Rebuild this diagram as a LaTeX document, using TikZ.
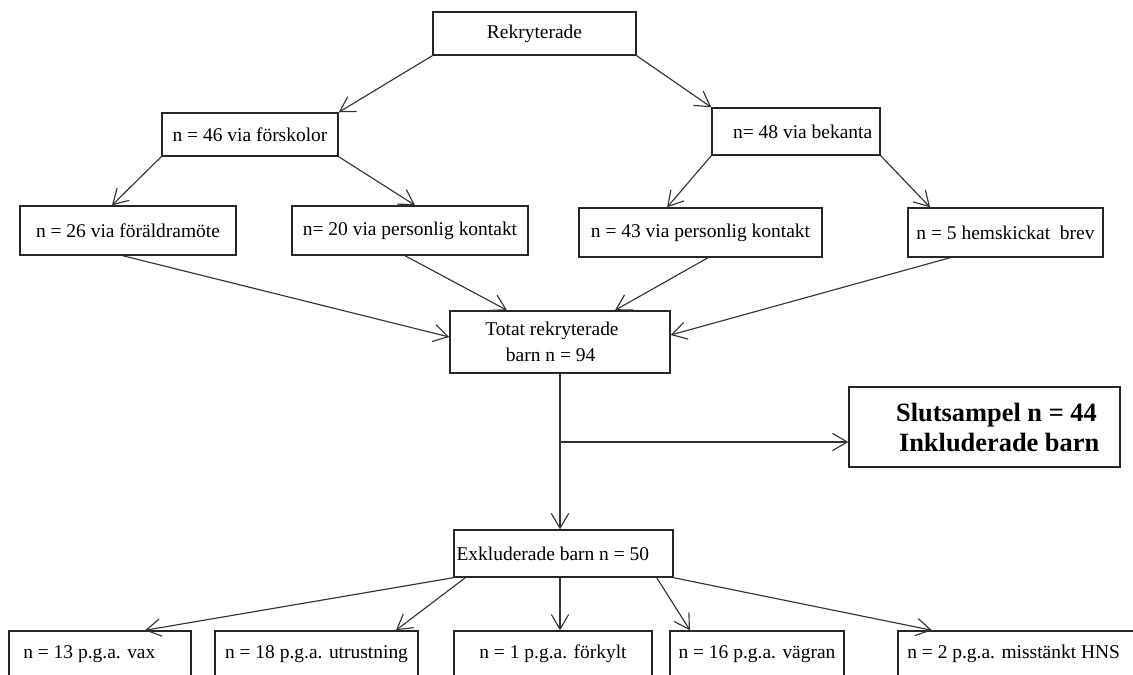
\documentclass[tikz,border=0pt]{standalone}
\usepackage{fontspec}
\setmainfont{Liberation Serif}
\usetikzlibrary{arrows.meta}
\begin{document}
\begin{tikzpicture}[x=0.75pt,y=-0.75pt,
  box/.style={draw=black!85, line width=1.1pt, rectangle, inner sep=0pt, align=center,
    font=\fontsize{14.6}{20}\selectfont},
  bigbox/.style={box, font=\fontsize{19.8}{22.5}\selectfont\bfseries},
  arr/.style={draw=black!80, line width=0.85pt, -{Straight Barb[length=11pt,width=13pt]}}]
\useasboundingbox (0,0) rectangle (1133,675);
\clip (0,0) rectangle (1133,675);
\fill[white] (0,0) rectangle (1133,675);

% top
\node[box, minimum width=152.25pt, minimum height=32.25pt] (rek) at (534.5,33.5) {Rekryterade};
\node[box, minimum width=132pt, minimum height=32.25pt] (f46) at (250,134.5) {n = 46 via förskolor};
\node[box, minimum width=126pt, minimum height=35.25pt] (b48) at (796,131.5) {\hspace*{10pt}n= 48 via bekanta};

% second row
\node[box, minimum width=162pt, minimum height=36.75pt] (f26) at (128,230.5) {n = 26 via föräldramöte};
\node[box, minimum width=177pt, minimum height=36.75pt] (f20) at (410,230.5) {n= 20 via personlig kontakt};
\node[box, minimum width=182.25pt, minimum height=36.75pt] (f43) at (700.5,232.5) {n = 43 via personlig kontakt};
\node[box, minimum width=146.25pt, minimum height=36.75pt] (f5) at (1005.5,232.5) {n = 5 hemskickat\ \ brev};

% middle
\node[box, minimum width=165pt, minimum height=46.5pt] (tot) at (560,342) {Totat rekryterade\hspace*{12pt}\\barn n = 94\hspace*{14pt}};
\node[bigbox, minimum width=203.25pt, minimum height=60pt] (slut) at (984.5,427) {\hspace*{18pt}Slutsampel n = 44\\\hspace*{22pt}Inkluderade barn};
\node[box, minimum width=164.25pt, minimum height=35.25pt] (exk) at (563.5,553.5) {Exkluderade barn n = 50\hspace*{16pt}};

% bottom row
\node[box, minimum width=136.5pt, minimum height=34.5pt] (e13) at (100,654) {n = 13 p.g.a. vax\hspace*{16pt}};
\node[box, minimum width=152.25pt, minimum height=34.5pt] (e18) at (316.5,654) {n = 18 p.g.a. utrustning};
\node[box, minimum width=148.5pt, minimum height=34.5pt] (e1) at (553,654) {n = 1 p.g.a. förkylt};
\node[box, minimum width=130.5pt, minimum height=34.5pt] (e16) at (757,654) {n = 16 p.g.a. vägran};
\node[box, minimum width=181.5pt, minimum height=34.5pt] (e2) at (1019,654) {n = 2 p.g.a. misstänkt HNS\hspace*{8pt}};

% connectors top
\draw[arr] (rek.south west) -- (f46.north east);
\draw[arr] (rek.south east) -- (b48.north west);
\draw[arr] (f46.south west) -- ([xshift=-12pt]f26.north);
\draw[arr] (f46.south east) -- ([xshift=3.75pt]f20.north);
\draw[arr] (b48.south west) -- ([xshift=-25pt]f43.north);
\draw[arr] (b48.south east) -- ([xshift=-56.6pt]f5.north);

% into total
\draw[arr] ([xshift=-3.75pt]f26.south) -- ([yshift=3.75pt]tot.west);
\draw[arr] ([xshift=-3.75pt]f20.south) -- ([xshift=-39.75pt]tot.north);
\draw[arr] ([xshift=5.6pt]f43.south) -- ([xshift=41.25pt]tot.north);
\draw[arr] ([xshift=-41.6pt]f5.south) -- ([yshift=5.25pt]tot.east);

% total -> excluded, branch -> final sample
\draw[arr] (tot.south) -- (tot.south |- exk.north);
\coordinate (sw) at ([yshift=-11.25pt]slut.west);
\coordinate (br) at (tot.south |- sw);
\draw[arr] (br) -- (sw);

% excluded -> reasons
\draw[arr] (exk.south west) -- ([xshift=33.75pt]e13.north);
\draw[arr] ([xshift=9pt]exk.south west) -- ([xshift=59.6pt]e18.north);
\draw[arr] (tot.south |- exk.south) -- (tot.south |- e1.north);
\draw[arr] ([xshift=-12.75pt]exk.south east) -- ([xshift=-50.25pt]e16.north);
\draw[arr] (exk.south east) -- ([xshift=-65.25pt]e2.north);
\end{tikzpicture}
\end{document}
